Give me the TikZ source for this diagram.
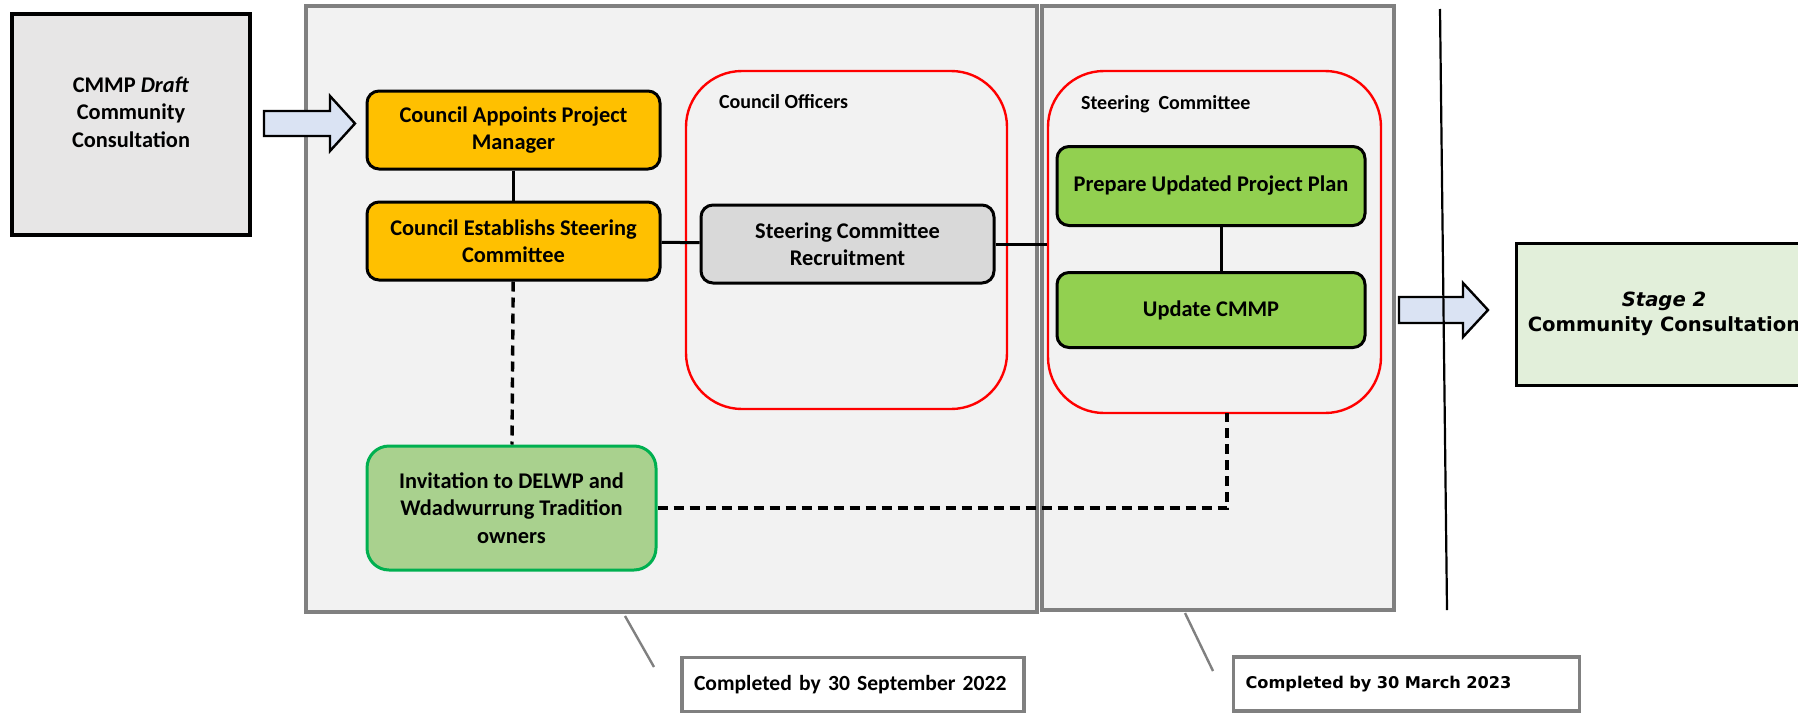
\documentclass[tikz,border=0pt]{standalone}
\usepackage{fontspec}
\setmainfont{Carlito}
\newfontfamily\verdfont{DejaVu Sans}
\usepackage{tikz}
\usepackage{xcolor}
\usetikzlibrary{calc}
\definecolor{panelfill}{HTML}{F2F2F2}
\definecolor{panelline}{HTML}{808080}
\definecolor{draftfill}{HTML}{E7E6E6}
\definecolor{orgfill}{HTML}{FFC000}
\definecolor{recfill}{HTML}{D9D9D9}
\definecolor{leaffill}{HTML}{92D050}
\definecolor{invfill}{HTML}{A9D18E}
\definecolor{invline}{HTML}{00B050}
\definecolor{stagefill}{HTML}{E2EFDA}
\definecolor{arrfill}{HTML}{DAE3F3}

\begin{document}
\begin{tikzpicture}[x=0.5pt,y=-0.5pt]%
  \tikzstyle{panel}=[rectangle,draw=panelline,fill=panelfill,line width=2pt]
  \tikzstyle{grp}=[rectangle,rounded corners=28pt,draw=red,line width=1.2pt]
  \tikzstyle{boxn}=[rectangle,rounded corners=6pt,draw=black,line width=1.5pt,align=center,
    font=\bfseries\fontsize{11.2}{13.7}\selectfont,minimum width=146.5pt,minimum height=39pt]
  \tikzstyle{note}=[rectangle,draw=panelline,fill=white,line width=1.6pt,align=left,anchor=center,
    inner xsep=6pt,minimum height=27pt]
  \tikzstyle{blockarrow}=[draw=black,fill=arrfill,line width=1.2pt,line join=miter]
  \tikzstyle{link}=[draw=black,line width=1.5pt]
  \tikzstyle{dlink}=[draw=black,line width=1.7pt,dash pattern=on 5pt off 3pt]
  \useasboundingbox (0,0) rectangle (1798,712);
  % stages
  \node(p1)[panel,minimum width=365.5pt,minimum height=303pt] at (671.5,309) {};
  \node(p2)[panel,minimum width=176pt,minimum height=302pt] at (1218,308) {};
  \node(draft)[rectangle,draw=black,fill=draftfill,line width=1.8pt,align=center,text depth=12.5pt,
    font=\bfseries\fontsize{11.2}{13.7}\selectfont,minimum width=119pt,minimum height=110.5pt]
    at (131,124.5) {CMMP \textit{Draft}\\Community\\Consultation};
  \node(offA)[grp,minimum width=160.5pt,minimum height=169pt] at (846.5,240) {};
  \node(steerB)[grp,minimum width=166.5pt,minimum height=171pt] at (1214.5,242) {};
  \node[anchor=west,font=\bfseries\fontsize{10}{12}\selectfont] at (712,102) {Council Officers};
  \node[anchor=west,font=\bfseries\fontsize{10}{12}\selectfont] at (1074,104) {Steering\ \ Committee};
  % boxes
  \node(orgA)[boxn,fill=orgfill] at (513.5,130) {Council Appoints Project\\Manager};
  \node(orgB)[boxn,fill=orgfill] at (513.5,241) {Council Establishs Steering\\Committee};
  \node(recr)[boxn,fill=recfill] at (847.5,244) {Steering Committee\\Recruitment};
  \node(prep)[boxn,fill=leaffill,minimum width=154pt,minimum height=39.5pt] at (1211,186) {Prepare Updated Project Plan};
  \node(upd)[boxn,fill=leaffill,minimum width=154pt,minimum height=37.5pt] at (1211,310) {Update CMMP};
  \node(inv)[boxn,fill=invfill,draw=invline,rounded corners=11pt,minimum width=144.5pt,minimum height=62pt]
    at (511.5,508) {Invitation to DELWP and\\Wdadwurrung Tradition\\owners};
  \node(stage)[rectangle,draw=black,fill=stagefill,line width=1.5pt,align=center,
    font=\verdfont\bfseries\fontsize{9.8}{12.8}\selectfont,minimum width=148pt,minimum height=71pt]
    at (1664,314) {\textit{Stage 2}\\Community Consultation};
  % block arrows
  \draw[blockarrow] (264,111) -- (330,111) -- (330,96) -- (355,123.5) -- (330,151) -- (330,136) -- (264,136) -- cycle;
  \draw[blockarrow] (1399,297) -- (1463,297) -- (1463,283) -- (1488,310) -- (1463,337) -- (1463,323) -- (1399,323) -- cycle;
  % divider
  \coordinate(vt) at (1440,9);
  \coordinate(vb) at (1447,610);
  \draw[black,line width=1.1pt] (vt) -- (vb);
  % connectors
  \draw[link] (orgA) -- (orgB);
  \draw[link] (orgB) -- (recr);
  \draw[link] (recr.east) -- (recr.east -| steerB.west);
  \draw[link] ($(prep.south)+(10,0)$) -- ($(upd.north)+(10,0)$);
  \draw[dlink] (orgB) -- (inv);
  \coordinate(dj) at (1227,413);
  \draw[dlink] (inv.east) -| (dj);
  % deadlines
  \node(done1)[note,text width=159pt,font=\bfseries\fontsize{10.8}{13}\selectfont] at (853,684.5)
    {Completed by 30 September 2022};
  \node(done2)[note,text width=161pt,font=\verdfont\bfseries\fontsize{8.1}{10}\selectfont] at (1406.5,684)
    {Completed by 30 March 2023};
  \coordinate(c1) at (625,616);
  \coordinate(c1e) at (654,667);
  \coordinate(c2) at (1185,613);
  \coordinate(c2e) at (1213,671);
  \draw[panelline,line width=1.2pt] (c1) -- (c1e);
  \draw[panelline,line width=1.2pt] (c2) -- (c2e);
\end{tikzpicture}
\end{document}
